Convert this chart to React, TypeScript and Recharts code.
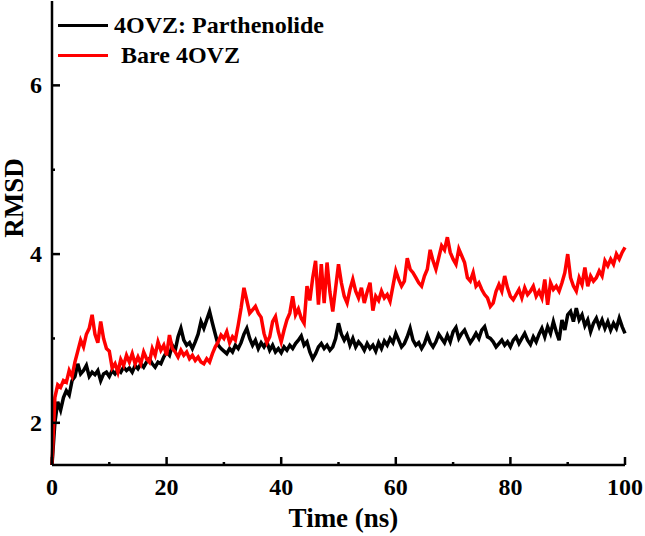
import { Legend, Line, LineChart, XAxis, YAxis } from "recharts";

// time grid (ns), 0.5 ns steps
const TIME = [
  0, 0.5, 1, 1.5, 2, 2.5, 3, 3.5, 4, 4.5, 5, 5.5, 6, 6.5, 7, 7.5, 8, 8.5, 9, 9.5,
  10, 10.5, 11, 11.5, 12, 12.5, 13, 13.5, 14, 14.5, 15, 15.5, 16, 16.5, 17, 17.5, 18, 18.5, 19, 19.5,
  20, 20.5, 21, 21.5, 22, 22.5, 23, 23.5, 24, 24.5, 25, 25.5, 26, 26.5, 27, 27.5, 28, 28.5, 29, 29.5,
  30, 30.5, 31, 31.5, 32, 32.5, 33, 33.5, 34, 34.5, 35, 35.5, 36, 36.5, 37, 37.5, 38, 38.5, 39, 39.5,
  40, 40.5, 41, 41.5, 42, 42.5, 43, 43.5, 44, 44.5, 45, 45.5, 46, 46.5, 47, 47.5, 48, 48.5, 49, 49.5,
  50, 50.5, 51, 51.5, 52, 52.5, 53, 53.5, 54, 54.5, 55, 55.5, 56, 56.5, 57, 57.5, 58, 58.5, 59, 59.5,
  60, 60.5, 61, 61.5, 62, 62.5, 63, 63.5, 64, 64.5, 65, 65.5, 66, 66.5, 67, 67.5, 68, 68.5, 69, 69.5,
  70, 70.5, 71, 71.5, 72, 72.5, 73, 73.5, 74, 74.5, 75, 75.5, 76, 76.5, 77, 77.5, 78, 78.5, 79, 79.5,
  80, 80.5, 81, 81.5, 82, 82.5, 83, 83.5, 84, 84.5, 85, 85.5, 86, 86.5, 87, 87.5, 88, 88.5, 89, 89.5,
  90, 90.5, 91, 91.5, 92, 92.5, 93, 93.5, 94, 94.5, 95, 95.5, 96, 96.5, 97, 97.5, 98, 98.5, 99, 99.5,
  100,
];

// 4OVZ: Parthenolide
const COMPLEX = [
  1.5, 2.0, 2.25, 2.15, 2.3, 2.38, 2.33, 2.5, 2.55, 2.7, 2.58, 2.62, 2.68, 2.55, 2.6, 2.57, 2.62, 2.5, 2.58, 2.6,
  2.55, 2.62, 2.58, 2.63, 2.6, 2.66, 2.62, 2.65, 2.6, 2.68, 2.64, 2.7, 2.66, 2.72, 2.76, 2.7, 2.66, 2.72, 2.7, 2.78,
  2.84, 2.8, 2.92, 2.86, 3.02, 3.12, 2.98, 2.92, 2.95, 2.88, 2.96, 3.05, 3.2, 3.12, 3.22, 3.32, 3.18, 3.05, 2.92, 2.88,
  2.85, 2.82, 2.88, 2.84, 2.92, 2.88, 2.95, 3.05, 3.12, 3.0, 2.92, 2.98, 2.88, 2.95, 2.9, 2.96, 2.86, 2.92, 2.84, 2.88,
  2.83, 2.9, 2.86, 2.92, 2.88, 2.94, 2.98, 3.03, 2.92, 2.96, 2.84, 2.76, 2.82, 2.9, 2.94, 2.88, 2.92, 2.86, 2.9, 3.0,
  3.18, 3.05, 2.98, 3.04, 2.92, 3.0, 2.9, 2.96, 2.92, 2.86, 2.94, 2.88, 2.92, 2.85, 2.95, 2.88, 2.97, 2.92, 3.0, 2.95,
  3.06, 2.98, 2.9, 2.94, 3.02, 3.12, 2.98, 2.92, 2.95, 2.88, 2.94, 3.04, 2.95, 2.9, 2.96, 3.05, 3.0, 2.95, 3.04, 2.96,
  3.08, 3.13, 3.0, 3.06, 3.1, 3.02, 2.95, 3.0, 3.06, 3.0, 3.1, 3.14, 3.02, 3.0, 2.96, 2.9, 2.94, 2.98, 2.92, 2.96,
  2.9, 2.98, 3.02, 2.94, 3.0, 3.06, 2.98, 2.93, 3.02, 2.96, 3.05, 3.12, 3.02, 3.14, 3.06, 3.2, 3.08, 2.98, 3.22, 3.1,
  3.28, 3.32, 3.2, 3.36, 3.22, 3.28, 3.15, 3.22, 3.08, 3.18, 3.24, 3.14, 3.22, 3.12, 3.2, 3.1, 3.18, 3.12, 3.24, 3.14,
  3.06,
];

// Bare 4OVZ
const BARE = [
  1.5, 2.3, 2.45, 2.42, 2.5, 2.48, 2.62, 2.55, 2.72, 2.85, 2.98, 2.9, 3.05, 3.12, 3.28, 3.05, 2.95, 3.2, 3.0, 2.88,
  2.85, 2.65, 2.7, 2.6, 2.75, 2.68, 2.8, 2.72, 2.82, 2.7, 2.78, 2.7, 2.84, 2.76, 2.72, 2.88, 2.8, 2.96, 2.86, 2.92,
  2.8, 3.04, 2.88, 2.84, 2.78, 2.86, 2.8, 2.84, 2.76, 2.8, 2.74, 2.78, 2.72, 2.7, 2.76, 2.72, 2.82, 2.9, 2.96, 3.04,
  3.0, 3.08, 2.95, 3.02, 2.98, 3.16, 3.36, 3.6, 3.45, 3.3, 3.34, 3.38, 3.3, 3.25, 3.06, 2.95, 3.02, 3.2, 3.26, 3.08,
  2.96, 3.1, 3.22, 3.3, 3.5, 3.28, 3.35, 3.24, 3.18, 3.62, 3.45, 3.72, 3.92, 3.4, 3.88, 3.42, 3.9, 3.55, 3.32, 3.6,
  3.88, 3.66, 3.5, 3.42, 3.58, 3.7, 3.56, 3.48, 3.6, 3.42, 3.55, 3.66, 3.33, 3.5, 3.45, 3.56, 3.48, 3.52, 3.44, 3.62,
  3.8, 3.7, 3.62, 3.68, 3.95, 3.82, 3.78, 3.72, 3.66, 3.62, 3.74, 3.82, 4.05, 3.92, 3.82, 3.96, 4.1, 4.05, 4.2, 4.02,
  3.94, 3.88, 4.06, 3.98, 3.9, 3.72, 3.68, 3.78, 3.62, 3.66, 3.58, 3.52, 3.48, 3.38, 3.42, 3.56, 3.64, 3.56, 3.74, 3.6,
  3.5, 3.46, 3.52, 3.58, 3.48, 3.6, 3.52, 3.56, 3.62, 3.5, 3.56, 3.48, 3.7, 3.4, 3.66, 3.58, 3.62, 3.56, 3.66, 3.78,
  4.0, 3.72, 3.62, 3.56, 3.72, 3.64, 3.84, 3.62, 3.74, 3.68, 3.72, 3.8, 3.74, 3.92, 3.86, 3.94, 3.88, 4.0, 3.94, 4.02,
  4.08,
];

const X_TICKS = [0, 10, 20, 30, 40, 50, 60, 70, 80, 90, 100];
const Y_TICKS = [2, 3, 4, 5, 6];

const FONT = "'Liberation Serif', 'Times New Roman', serif";
const AXIS = { stroke: "#000", strokeWidth: 2.5 };

const SERIES = [
  { key: "complex", name: "4OVZ: Parthenolide", color: "#000000", indent: 0 },
  { key: "bare", name: "Bare 4OVZ", color: "#ff0000", indent: 7 },
];

const data = TIME.map((t, i) => ({ t, complex: COMPLEX[i], bare: BARE[i] }));

// ticks point inward; majors carry the label
function XTick({ x, y, payload }: any) {
  const major = payload.value % 20 === 0;
  return (
    <g>
      <line x1={x} y1={y} x2={x} y2={y - (major ? 8 : 3)} stroke="#000" strokeWidth={2.5} />
      {major && (
        <text x={x} y={y + 30} textAnchor="middle" fontFamily={FONT} fontWeight="bold" fontSize={24} fill="#000">
          {payload.value}
        </text>
      )}
    </g>
  );
}

function YTick({ x, y, payload }: any) {
  const major = payload.value % 2 === 0;
  return (
    <g>
      <line x1={x} y1={y} x2={x + (major ? 8 : 3)} y2={y} stroke="#000" strokeWidth={2.5} />
      {major && (
        <text x={x - 10} y={y + 8} textAnchor="end" fontFamily={FONT} fontWeight="bold" fontSize={24} fill="#000">
          {payload.value}
        </text>
      )}
    </g>
  );
}

function LegendBox() {
  return (
    <div style={{ fontFamily: FONT, fontWeight: "bold", fontSize: 24, color: "#000" }}>
      {SERIES.map((s) => (
        <div key={s.key} style={{ display: "flex", alignItems: "center", height: 30 }}>
          <div style={{ width: 50, height: 3, background: s.color }} />
          <span style={{ marginLeft: 6 + s.indent, lineHeight: "30px" }}>{s.name}</span>
        </div>
      ))}
    </div>
  );
}

export default function App() {
  return (
    <div style={{ position: "absolute", left: 0, top: 0, width: 645, height: 536, background: "#fff" }}>
      <LineChart width={645} height={536} data={data} margin={{ top: 1, right: 20, left: 0, bottom: 0 }}>
        <XAxis
          dataKey="t"
          type="number"
          domain={[0, 100]}
          ticks={X_TICKS}
          interval={0}
          height={71}
          tickSize={0}
          tickMargin={0}
          axisLine={AXIS}
          tick={<XTick />}
          label={({ viewBox }: any) => (
            <text
              x={viewBox.x + viewBox.width / 2 + 5}
              y={viewBox.y + 62}
              textAnchor="middle"
              fontFamily={FONT}
              fontWeight="bold"
              fontSize={27}
              fill="#000"
            >
              Time (ns)
            </text>
          )}
        />
        <XAxis xAxisId="top" orientation="top" type="number" domain={[0, 100]} height={0} tick={false} tickLine={false} axisLine={AXIS} />
        <YAxis
          type="number"
          domain={[1.5, 7]}
          ticks={Y_TICKS}
          interval={0}
          width={52}
          tickSize={0}
          tickMargin={0}
          axisLine={AXIS}
          tick={<YTick />}
          label={() => (
            <text
              x={23}
              y={198}
              transform="rotate(-90, 23, 198)"
              textAnchor="middle"
              fontFamily={FONT}
              fontWeight="bold"
              fontSize={27}
              fill="#000"
            >
              RMSD
            </text>
          )}
        />
        <YAxis yAxisId="right" orientation="right" type="number" domain={[1.5, 7]} width={0} tick={false} tickLine={false} axisLine={AXIS} />
        <Legend
          layout="vertical"
          align="center"
          verticalAlign="middle"
          content={<LegendBox />}
          wrapperStyle={{ left: 58, top: 10, width: "auto" }}
        />
        {SERIES.map((s) => (
          <Line
            key={s.key}
            dataKey={s.key}
            name={s.name}
            stroke={s.color}
            strokeWidth={3.5}
            dot={false}
            type="linear"
            isAnimationActive={false}
          />
        ))}
      </LineChart>
    </div>
  );
}
